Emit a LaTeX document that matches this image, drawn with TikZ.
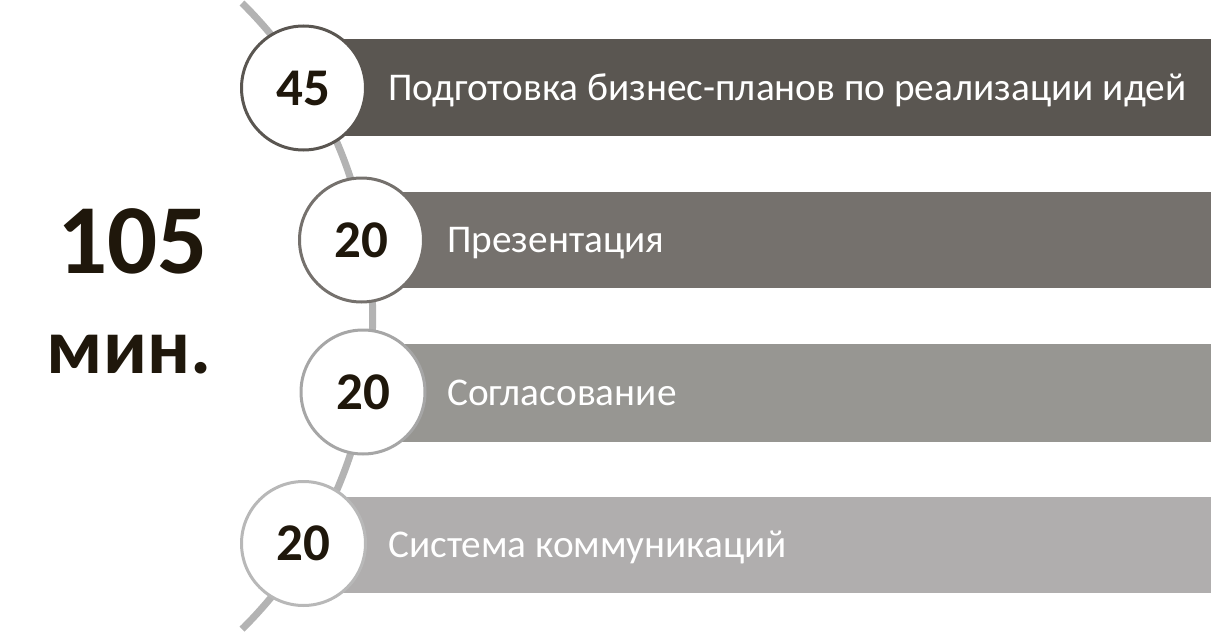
\documentclass[tikz,border=0pt]{standalone}
\usepackage{fontspec}
\setmainfont{Carlito}
\definecolor{barA}{HTML}{5A5651}
\definecolor{barB}{HTML}{75716D}
\definecolor{barC}{HTML}{979692}
\definecolor{barD}{HTML}{B0AEAE}
\definecolor{ringC}{HTML}{A6A6A6}
\definecolor{ringD}{HTML}{B8B8B8}
\definecolor{arcgray}{HTML}{B3B3B3}
\definecolor{numdark}{HTML}{1F170B}
\tikzset{
  bar/.style={inner sep=0pt, outer sep=0pt},
  ring/.style={circle, fill=white, line width=3pt, minimum size=124pt, inner sep=0pt,
    font=\fontsize{53}{53}\selectfont\bfseries, text=numdark},
  label/.style={anchor=base west, inner sep=0pt, text=white, font=\fontsize{39.3}{40}\selectfont},
  arcline/.style={draw=arcgray, line width=7pt},
  big/.style={text=numdark, inner sep=0pt, font=\bfseries}
}
\begin{document}
\begin{tikzpicture}[x=1pt,y=-1pt]
\useasboundingbox (0,0) rectangle (1216,634);
\coordinate (arcstart) at (242,3);
\draw[arcline] (arcstart) arc[start angle=-45.3, end angle=45.3, radius=440.5];
% bars
\fill[barA] (303,39) rectangle (1211,136);
\fill[barB] (362,192) rectangle (1211,288);
\fill[barC] (363,344) rectangle (1211,442);
\fill[barD] (303,497) rectangle (1211,593);
% circles
\node[ring, draw=barA] (c1) at (303.5,88) {45};
\node[ring, draw=barB] (c2) at (361.5,240) {20};
\node[ring, draw=ringC] (c3) at (363,392) {20};
\node[ring, draw=ringD] (c4) at (303.5,543.5) {20};
% labels
\node[label] (t1) at (388,100) {Подготовка бизнес-планов по реализации идей};
\node[label] (t2) at (447,252.5) {Презентация};
\node[label] (t3) at (447,405) {Согласование};
\node[label] (t4) at (388,557.5) {Система коммуникаций};
% total
\node[big, anchor=base, font=\fontsize{99}{99}\selectfont\bfseries] (tot) at (132.5,273) {105};
\node[big, anchor=base, font=\fontsize{79}{79}\selectfont\bfseries] (mn) at (129,373) {мин.};
\end{tikzpicture}
\end{document}
